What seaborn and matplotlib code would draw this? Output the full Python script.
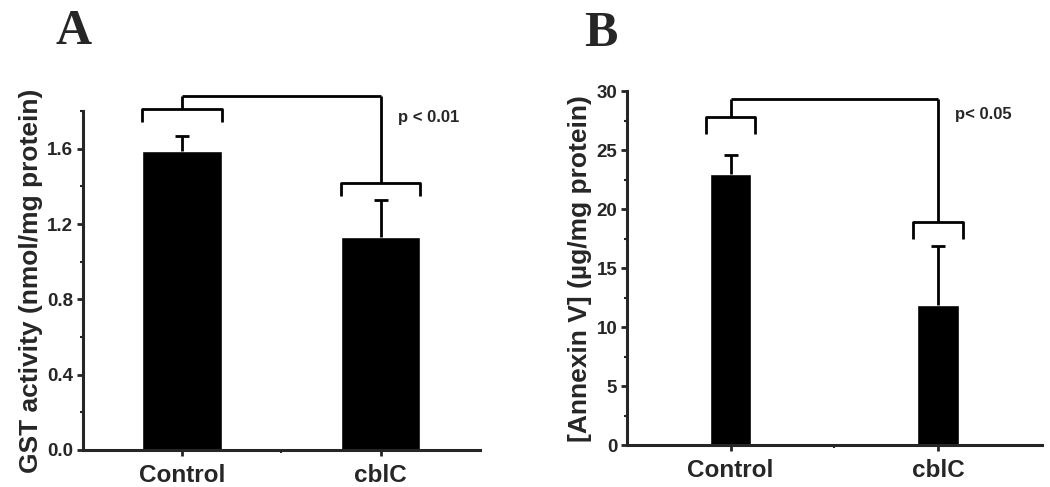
import pandas as pd
import seaborn as sns
import matplotlib.pyplot as plt
import matplotlib.ticker as mtick

#%% data
groups = ["Control", "cblC"]

gst_mean = [1.59, 1.13]
gst_err = [0.08, 0.20]
gst_bracket = [1.81, 1.42]      # horizontal bar of each group bracket
gst_bracket_leg = 0.07
gst_top = 1.88
gst_p = "p < 0.01"

anx_mean = [23.0, 11.9]
anx_err = [1.6, 5.0]
anx_bracket = [27.8, 18.9]
anx_bracket_leg = 1.4
anx_top = 29.3
anx_p = "p< 0.05"

#%% style
sns.set_style("ticks")
plt.rcParams['font.family'] = ['Liberation Sans', 'DejaVu Sans']
plt.rcParams['font.weight'] = 'bold'

fig = plt.figure(figsize=(10.5, 4.87), dpi=100)
ax_a = fig.add_axes([0.079, 0.076, 0.378, 0.696])
ax_b = fig.add_axes([0.597, 0.086, 0.395, 0.727])


def draw_panel(ax, means, errs, bar_w, half_br, levels, leg, top, ptxt, ptxt_xy,
               ylim, major, minor, ylabel, fmt):
    df = pd.DataFrame({"group": groups, "value": means})
    sns.barplot(data=df, x="group", y="value", color="black", width=bar_w,
                saturation=1, ax=ax)
    # upper error bars only
    tops = [m + e for m, e in zip(means, errs)]
    ax.vlines([0, 1], means, tops, color="black", lw=2)
    ax.scatter([0, 1], tops, marker="_", s=110, color="black", linewidths=2,
               zorder=3)

    # significance brackets
    kw = dict(color="black", lw=2, clip_on=False, solid_capstyle="butt")
    for i, lev in enumerate(levels):
        ax.plot([i - half_br, i - half_br, i + half_br, i + half_br],
                [lev - leg, lev, lev, lev - leg], **kw)
        ax.plot([i, i], [lev, top], **kw)
    ax.plot([0, 1], [top, top], **kw)
    ax.text(ptxt_xy[0], ptxt_xy[1], ptxt, fontsize=12, fontweight="bold",
            ha="left", va="center", transform=ax.transData)

    ax.set_xlim(-0.5, 1.5)
    ax.set_ylim(*ylim)
    ax.yaxis.set_major_locator(mtick.MultipleLocator(major))
    ax.yaxis.set_minor_locator(mtick.MultipleLocator(minor))
    ax.yaxis.set_major_formatter(mtick.FormatStrFormatter(fmt))
    ax.xaxis.set_minor_locator(mtick.FixedLocator([0.5]))
    ax.set_xlabel("")
    ax.set_ylabel(ylabel, fontsize=19, fontweight="bold", labelpad=3)
    sns.despine(ax=ax)
    for s in ["left", "bottom"]:
        ax.spines[s].set_linewidth(2.2)
    ax.tick_params(axis="both", which="major", length=4, width=2,
                   labelsize=13.5, direction="out", pad=3)
    ax.tick_params(axis="both", which="minor", length=2, width=1.5,
                   direction="out")
    ax.tick_params(axis="x", which="major", labelsize=17.5, pad=6)
    for lab in ax.get_xticklabels() + ax.get_yticklabels():
        lab.set_fontweight("bold")


draw_panel(ax_a, gst_mean, gst_err, 0.4, 0.2, gst_bracket, gst_bracket_leg,
           gst_top, gst_p, (1.09, 1.765), (0, 1.8), 0.4, 0.2,
           "GST activity (nmol/mg protein)", "%.1f")
draw_panel(ax_b, anx_mean, anx_err, 0.2, 0.12, anx_bracket, anx_bracket_leg,
           anx_top, anx_p, (1.08, 28.0), (0, 30), 5, 2.5,
           "[Annexin V] (\u00b5g/mg protein)", "%d")

fig.text(0.053, 0.935, "A", fontsize=36, fontweight="bold",
         family="Liberation Serif", ha="left", va="center")
fig.text(0.556, 0.93, "B", fontsize=36, fontweight="bold",
         family="Liberation Serif", ha="left", va="center")

fig.savefig("out.png", dpi=100)
